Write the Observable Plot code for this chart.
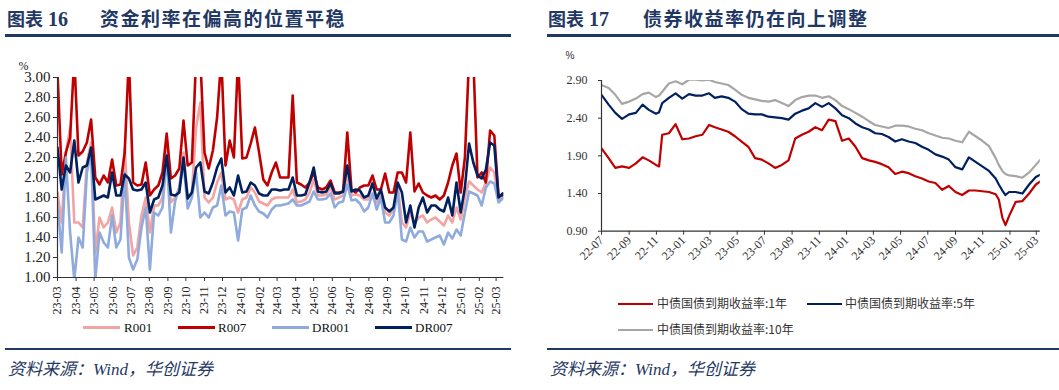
<!DOCTYPE html>
<html><head><meta charset="utf-8">
<script src="https://cdn.jsdelivr.net/npm/d3@7"></script>
<script src="https://cdn.jsdelivr.net/npm/@observablehq/plot@0.6"></script>
<style>
html,body{margin:0;padding:0;background:#fff;}
body{width:1059px;height:390px;overflow:hidden;position:relative;}
.abs{position:absolute;white-space:nowrap;}
.tnum{font-family:"Liberation Serif",serif;font-weight:700;font-size:20px;color:#1F3864;line-height:20px;}
.ttxt{font-family:"Noto Sans CJK SC",sans-serif;font-weight:700;font-size:19px;color:#1F3864;line-height:20px;letter-spacing:1.5px;}
.rule{position:absolute;background:#1F3864;}
.src{font-family:"Liberation Serif","Noto Sans CJK SC",serif;font-style:italic;color:#1F3864;font-size:17px;line-height:18px;}
.sw{position:absolute;height:3px;}
.lgl{font-family:"Liberation Serif",serif;font-size:13px;color:#111;line-height:15px;}
.lgr{font-family:"Noto Sans CJK SC",sans-serif;font-size:12px;color:#333;line-height:14px;}
</style></head>
<body>
<div id="app"></div>
<script>
// ---------------- Left chart data (weekly readings) ----------------
const leftDates = ["2023-03-01","2023-03-08","2023-03-15","2023-03-22","2023-03-29","2023-04-05","2023-04-12","2023-04-19","2023-04-26","2023-05-03","2023-05-10","2023-05-17","2023-05-24","2023-05-31","2023-06-07","2023-06-14","2023-06-21","2023-06-28","2023-07-05","2023-07-12","2023-07-19","2023-07-26","2023-08-02","2023-08-09","2023-08-16","2023-08-23","2023-08-30","2023-09-06","2023-09-13","2023-09-20","2023-09-27","2023-10-04","2023-10-11","2023-10-18","2023-10-25","2023-11-01","2023-11-08","2023-11-15","2023-11-22","2023-11-29","2023-12-06","2023-12-13","2023-12-20","2023-12-27",
"2024-01-03","2024-01-10","2024-01-17","2024-01-24","2024-01-31","2024-02-07","2024-02-14","2024-02-21","2024-02-28","2024-03-06","2024-03-13","2024-03-20","2024-03-27","2024-04-03","2024-04-10","2024-04-17","2024-04-24","2024-05-01","2024-05-08","2024-05-15","2024-05-22","2024-05-29","2024-06-05","2024-06-12","2024-06-19","2024-06-26","2024-07-03","2024-07-10","2024-07-17","2024-07-24","2024-07-31","2024-08-07","2024-08-14","2024-08-21","2024-08-28","2024-09-04","2024-09-11","2024-09-18","2024-09-25","2024-10-02","2024-10-09","2024-10-16","2024-10-23","2024-10-30","2024-11-06","2024-11-13","2024-11-20","2024-11-27","2024-12-04","2024-12-11","2024-12-18","2024-12-25",
"2025-01-01","2025-01-08","2025-01-15","2025-01-22","2025-01-29","2025-02-05","2025-02-12","2025-02-19","2025-02-26","2025-03-05","2025-03-12"];

const r001 = [1.85,1.55,2.25,2.50,1.55,1.55,1.50,2.15,2.35,1.25,
1.60,1.50,1.55,1.70,1.45,1.55,2.30,1.55,1.22,1.30,
1.62,1.80,1.45,1.72,1.72,1.80,2.30,1.75,1.80,1.90,
2.25,1.80,1.85,2.50,2.75,1.80,1.75,1.80,1.95,2.05,
1.78,1.80,1.78,1.65,1.78,1.80,1.90,1.85,1.76,1.74,
1.72,1.78,1.80,1.80,1.80,1.80,1.88,1.75,1.76,1.78,
1.85,1.98,1.82,1.82,1.83,1.90,1.78,1.80,1.82,2.02,
1.82,1.83,1.82,1.78,1.78,1.96,1.75,1.86,1.65,1.62,
1.68,1.92,1.55,1.50,1.65,1.54,1.60,1.62,1.55,1.58,
1.60,1.56,1.52,1.62,1.55,1.70,1.58,1.80,1.96,1.92,
1.88,1.85,1.95,2.10,2.05,1.78,1.80];

const r007 = [3.05,2.03,2.25,2.40,3.20,2.22,2.26,2.35,2.58,2.00,
1.93,2.02,1.95,2.18,1.92,1.93,2.25,3.20,1.95,1.92,
1.93,2.15,1.82,1.88,1.92,2.05,2.44,1.99,2.02,2.09,
2.57,2.12,2.15,3.20,3.20,2.25,2.09,2.27,2.60,3.20,
2.12,2.37,2.20,3.20,2.19,2.20,2.34,2.50,2.25,1.98,
1.92,2.05,2.15,2.00,2.00,2.00,2.82,1.95,1.93,1.90,
1.95,2.05,1.90,1.88,1.90,1.97,1.85,1.85,1.86,2.45,
1.88,1.85,1.90,1.92,1.92,2.02,1.88,1.88,2.04,1.85,
1.85,2.05,2.05,1.95,2.45,1.86,1.94,1.85,1.82,1.80,
1.82,1.78,1.82,1.95,2.12,2.24,1.85,2.20,3.20,3.20,
2.00,2.05,1.95,2.47,2.42,1.82,1.82];

const dr001 = [1.75,1.25,2.20,1.45,0.98,1.40,1.30,2.05,2.25,0.98,
1.45,1.35,1.30,1.62,1.30,1.38,2.05,1.20,1.08,1.18,
1.50,1.70,1.08,1.65,1.62,1.70,2.22,1.45,1.76,1.90,
2.15,1.69,1.80,2.05,1.60,1.65,1.60,1.70,1.72,1.92,
1.62,1.66,1.65,1.37,1.68,1.70,1.82,1.72,1.66,1.64,
1.60,1.68,1.72,1.72,1.73,1.74,1.78,1.72,1.72,1.74,
1.76,1.86,1.78,1.78,1.79,1.84,1.70,1.75,1.76,1.93,
1.77,1.78,1.74,1.66,1.70,1.84,1.68,1.80,1.55,1.55,
1.62,1.86,1.38,1.36,1.50,1.40,1.46,1.46,1.36,1.38,
1.40,1.42,1.33,1.45,1.39,1.48,1.42,1.65,1.86,1.84,
1.82,1.72,1.90,1.96,1.94,1.75,1.79];

const dr007 = [2.30,1.88,2.12,2.05,2.37,1.95,2.10,2.12,2.30,1.78,
1.80,1.82,1.80,2.05,1.82,1.82,2.03,1.99,1.88,1.87,
1.88,1.95,1.65,1.78,1.80,1.92,2.22,1.83,1.82,1.85,
2.20,1.79,1.85,2.10,2.15,1.86,1.84,1.95,2.10,2.19,
1.85,1.90,1.82,2.02,1.85,1.86,1.95,1.92,1.84,1.82,
1.82,1.88,1.88,1.87,1.88,1.88,2.00,1.82,1.82,1.83,
1.95,2.10,1.86,1.85,1.86,1.94,1.84,1.84,1.86,2.12,
1.86,1.88,1.87,1.80,1.82,1.94,1.79,1.88,1.70,1.66,
1.70,1.95,1.85,1.55,1.72,1.50,1.70,1.80,1.65,1.72,
1.72,1.68,1.66,1.80,1.62,1.95,1.65,1.90,2.34,2.15,
2.02,1.99,2.08,2.35,2.32,1.80,1.84];

const leftNames = ["R001","R007","DR001","DR007"];
const leftColors = ["#F4A3A3","#C00000","#8FAADC","#002060"];
const leftXTicks = ["23-03","23-04","23-05","23-06","23-07","23-08","23-09","23-10","23-11","23-12","24-01","24-02","24-03","24-04","24-05","24-06","24-07","24-08","24-09","24-10","24-11","24-12","25-01","25-02","25-03"];
const leftYTicks = ["1.00","1.20","1.40","1.60","1.80","2.00","2.20","2.40","2.60","2.80","3.00"];

// ---------------- Right chart data (semi-monthly readings) ----------------
const rightDates = ["2022-07-01","2022-07-17","2022-08-01","2022-08-16","2022-09-01","2022-09-16","2022-10-01","2022-10-15","2022-10-31","2022-11-07",
"2022-11-14","2022-11-29","2022-12-14","2022-12-29","2023-01-13","2023-01-28","2023-02-12","2023-02-27","2023-03-12","2023-03-27",
"2023-04-11","2023-04-26","2023-05-11","2023-05-26","2023-06-10","2023-06-25","2023-07-10","2023-07-25","2023-08-09","2023-08-24",
"2023-09-08","2023-09-23","2023-10-08","2023-10-23","2023-11-07","2023-11-22","2023-12-07","2023-12-22","2024-01-06","2024-01-21",
"2024-02-05","2024-02-20","2024-03-05","2024-03-20","2024-04-04","2024-04-19","2024-05-04","2024-05-19","2024-06-03","2024-06-18",
"2024-07-03","2024-07-18","2024-08-02","2024-08-17","2024-09-01","2024-09-16","2024-10-01","2024-10-16","2024-10-31","2024-11-15",
"2024-11-30","2024-12-07","2024-12-15","2024-12-22","2024-12-30","2025-01-14","2025-01-29","2025-02-13","2025-02-28","2025-03-10"];

const cgb1y = [2.00,1.87,1.74,1.76,1.74,1.80,1.88,1.84,1.78,1.76,
2.18,2.20,2.32,2.12,2.13,2.16,2.18,2.31,2.28,2.25,
2.22,2.16,2.09,2.02,1.87,1.85,1.80,1.74,1.78,1.84,
2.13,2.18,2.22,2.28,2.24,2.38,2.36,2.10,2.13,2.02,
1.87,1.84,1.82,1.79,1.75,1.66,1.69,1.67,1.63,1.60,
1.56,1.54,1.45,1.50,1.42,1.38,1.44,1.44,1.43,1.42,
1.39,1.32,1.08,0.98,1.10,1.29,1.30,1.40,1.52,1.56];

const cgb5y = [2.71,2.58,2.47,2.39,2.45,2.47,2.58,2.51,2.46,2.48,
2.60,2.67,2.73,2.66,2.72,2.70,2.70,2.73,2.67,2.69,
2.67,2.62,2.52,2.46,2.45,2.45,2.42,2.41,2.40,2.38,
2.46,2.50,2.53,2.60,2.55,2.60,2.53,2.44,2.40,2.33,
2.28,2.25,2.20,2.19,2.15,2.09,2.12,2.09,2.07,2.02,
1.98,1.92,1.89,1.85,1.75,1.72,1.88,1.82,1.76,1.70,
1.60,1.52,1.44,1.38,1.42,1.42,1.40,1.52,1.62,1.65];

const cgb10y = [2.84,2.80,2.71,2.59,2.62,2.66,2.72,2.74,2.68,2.70,
2.75,2.86,2.89,2.85,2.91,2.91,2.90,2.91,2.88,2.86,
2.84,2.78,2.71,2.67,2.65,2.63,2.62,2.64,2.60,2.56,
2.64,2.68,2.70,2.70,2.67,2.69,2.64,2.56,2.52,2.47,
2.42,2.36,2.31,2.29,2.27,2.30,2.30,2.29,2.26,2.24,
2.20,2.17,2.14,2.13,2.10,2.08,2.22,2.16,2.10,2.03,
1.87,1.78,1.70,1.66,1.64,1.63,1.61,1.68,1.78,1.85];

const rightNames = ["中债国债到期收益率:1年","中债国债到期收益率:5年","中债国债到期收益率:10年"];
const rightColors = ["#C00000","#002060","#A6A6A6"];
const rightXTicks = ["22-07","22-09","22-11","23-01","23-03","23-05","23-07","23-09","23-11","24-01","24-03","24-05","24-07","24-09","24-11","25-01","25-03"];
const rightYTicks = ["0.90","1.40","1.90","2.40","2.90"];

// ---------------- helpers ----------------
const parseDate = d3.utcParse("%Y-%m-%d");
const tickDate = s => new Date(Date.UTC(2000 + +s.slice(0,2), +s.slice(3,5) - 1, 1));
function rows(dates, series, names) {
  const out = [];
  series.forEach((vals, k) => vals.forEach((v, i) => out.push({date: parseDate(dates[i]), value: v, series: names[k]})));
  return out;
}
const app = document.getElementById("app");
function el(cls, style, html) {
  const d = document.createElement("div");
  d.className = cls; Object.assign(d.style, style); if (html != null) d.innerHTML = html;
  app.appendChild(d); return d;
}

// ---------------- Static text / rules ----------------
el("abs tnum", {left:"7px", top:"8px"}, '<span style="font-family:Noto Sans CJK SC;font-size:18px">图表</span> 16');
el("abs ttxt", {left:"100px", top:"8px"}, "资金利率在偏高的位置平稳");
el("abs tnum", {left:"548px", top:"8px"}, '<span style="font-family:Noto Sans CJK SC;font-size:18px">图表</span> 17');
el("abs ttxt", {left:"643px", top:"8px"}, "债券收益率仍在向上调整");
el("rule", {left:"5px", top:"34px", width:"506px", height:"3px"});
el("rule", {left:"547px", top:"34px", width:"512px", height:"3px"});
el("rule", {left:"5px", top:"348px", width:"506px", height:"2px"});
el("rule", {left:"547px", top:"348px", width:"512px", height:"2px"});
el("abs src", {left:"8px", top:"361px"}, "资料来源：Wind，华创证券");
el("abs src", {left:"550px", top:"361px"}, "资料来源：Wind，华创证券");

// left legend
const lgX = [[83,124],[178,218],[272,312],[375,415]];
leftNames.forEach((n, k) => {
  el("sw", {left: lgX[k][0]+"px", top:"326px", width:"37px", background: leftColors[k]});
  el("abs lgl", {left: lgX[k][1]+"px", top:"320px"}, n);
});
// right legend
const lgR = [[618,657,304],[807,845,304],[618,657,330]];
rightNames.forEach((n, k) => {
  el("sw", {left: lgR[k][0]+"px", top:(lgR[k][2]-1)+"px", width:"35px", height:"2px", background: rightColors[k]});
  el("abs lgr", {left: lgR[k][1]+"px", top:(lgR[k][2]-8)+"px"}, n);
});

// ---------------- Left plot ----------------
const leftRows = rows(leftDates, [r001, r007, dr001, dr007], leftNames);
const lx0 = parseDate("2023-03-01"), lx1 = parseDate("2025-03-14");
const lXmap = new Map(leftXTicks.map(s => [+tickDate(s), s]));
const lYmap = new Map(leftYTicks.map(s => [+s, s]));
const leftPlot = Plot.plot({
  width: 530, height: 280,
  marginLeft: 57, marginRight: 26.6, marginTop: 37, marginBottom: 43,
  style: {fontFamily: "Liberation Serif, serif", fontSize: "12px", color: "#222", background: "transparent", overflow: "visible"},
  x: {type: "utc", domain: [lx0, lx1]},
  y: {domain: [1, 3]},
  marks: [
    Plot.axisY({ticks: leftYTicks.map(Number), tickFormat: d => lYmap.get(d), tickSize: 4, tickPadding: 3, fontSize: 15, label: null, stroke: "#333"}),
    Plot.axisX({ticks: leftXTicks.map(tickDate), tickFormat: d => lXmap.get(+d), tickRotate: -90, tickSize: 4, tickPadding: 5, fontSize: 12, label: null, stroke: "#333"}),
    ...leftNames.map((n, k) => Plot.line(leftRows.filter(d => d.series === n), {x: "date", y: "value", stroke: leftColors[k], strokeWidth: 2.6, clip: true})),
    Plot.ruleX([lx0], {stroke: "#333", strokeWidth: 1.2}),
    Plot.ruleY([1], {stroke: "#333", strokeWidth: 1.2}),
    Plot.text(["%"], {text: d => d, frameAnchor: "top-left", dx: -39, dy: -16.5, textAnchor: "start", fontSize: 12, fill: "#222"})
  ]
});
const lw = el("abs", {left:"0px", top:"40px"});
lw.appendChild(leftPlot);

// ---------------- Right plot ----------------
const rightRows = rows(rightDates, [cgb1y, cgb5y, cgb10y], rightNames);
const rx0 = parseDate("2022-07-01"), rx1 = parseDate("2025-03-10");
const rXmap = new Map(rightXTicks.map(s => [+tickDate(s), s]));
const rYmap = new Map(rightYTicks.map(s => [+s, s]));
const rightPlot = Plot.plot({
  width: 529, height: 250,
  marginLeft: 71, marginRight: 19.2, marginTop: 40, marginBottom: 59.3,
  style: {fontFamily: "Liberation Serif, serif", fontSize: "12px", color: "#333", background: "transparent", overflow: "visible"},
  x: {type: "utc", domain: [rx0, rx1]},
  y: {domain: [0.9, 2.9]},
  marks: [
    Plot.axisY({ticks: rightYTicks.map(Number), tickFormat: d => rYmap.get(d), tickSize: 3, tickPadding: 11, fontSize: 12, label: null, stroke: "#333"}),
    Plot.axisX({ticks: rightXTicks.map(tickDate), tickFormat: d => rXmap.get(+d), tickRotate: -45, tickSize: 4, tickPadding: 3, fontSize: 12, label: null, stroke: "#333"}),
    ...rightNames.map((n, k) => Plot.line(rightRows.filter(d => d.series === n), {x: "date", y: "value", stroke: rightColors[k], strokeWidth: 2.2, clip: true})),
    Plot.ruleX([rx0], {stroke: "#333", strokeWidth: 1.2}),
    Plot.ruleY([0.9], {stroke: "#333", strokeWidth: 1.2}),
    Plot.text(["%"], {text: d => d, frameAnchor: "top-left", dx: -36, dy: -28.5, textAnchor: "start", fontSize: 10, fontFamily: "Liberation Sans, sans-serif", fill: "#333"})
  ]
});
const rw = el("abs", {left:"530px", top:"40px"});
rw.appendChild(rightPlot);
</script>
</body></html>
